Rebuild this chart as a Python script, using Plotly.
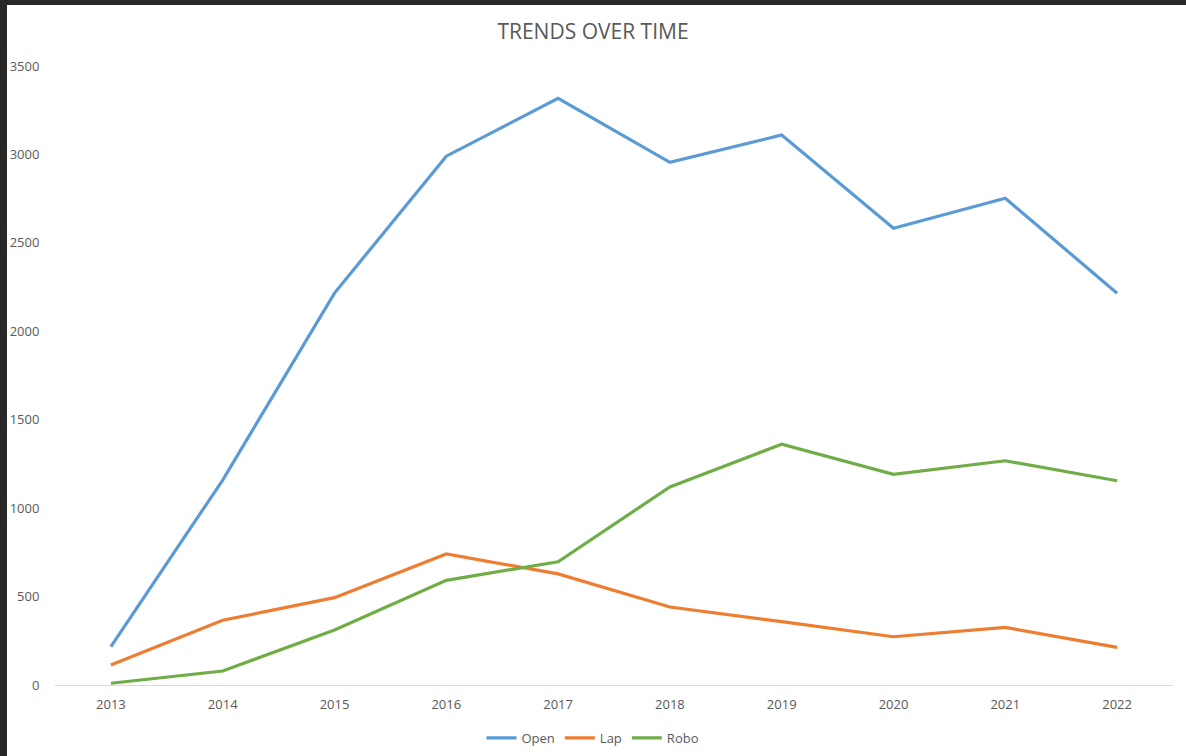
import plotly.graph_objects as go

years = ["2013", "2014", "2015", "2016", "2017", "2018", "2019", "2020", "2021", "2022"]
open_vals = [217, 1159, 2216, 2990, 3317, 2955, 3110, 2582, 2752, 2215]
lap_vals = [113, 366, 494, 741, 628, 441, 358, 273, 326, 213]
robo_vals = [10, 79, 311, 592, 697, 1120, 1361, 1191, 1268, 1155]
y_ticks = [0, 500, 1000, 1500, 2000, 2500, 3000, 3500]

series = [("Open", open_vals, "#5B9BD5"), ("Lap", lap_vals, "#ED7D31"), ("Robo", robo_vals, "#70AD47")]

fig = go.Figure()
for name, vals, color in series:
    fig.add_trace(go.Scatter(x=years, y=vals, name=name, mode="lines",
                             line=dict(color=color, width=3.2)))

W, H = 1186, 756
ml, mr, mt, mb = 55, 13, 66, 71

fig.update_layout(
    width=W, height=H,
    margin=dict(l=ml, r=mr, t=mt, b=mb, pad=0, autoexpand=False),
    paper_bgcolor="white", plot_bgcolor="white",
    font=dict(family="Open Sans", size=12, color="#595959"),
    title=dict(text="TRENDS OVER TIME", x=0.5, xref="container", xanchor="center",
               y=1 - 32 / H, yref="container", yanchor="middle",
               font=dict(family="Open Sans", size=21, color="#595959")),
    xaxis=dict(type="category", range=[-0.5, len(years) - 0.5], showgrid=False,
               showline=True, linecolor="#d9d9d9",
               linewidth=1, ticks="outside", ticklen=7, tickcolor="rgba(0,0,0,0)",
               zeroline=False, automargin=False, tickfont=dict(size=13, color="#595959")),
    yaxis=dict(range=[0, 3500], tickvals=y_ticks, showgrid=False, showline=False,
               zeroline=False, ticks="outside", ticklen=12, tickcolor="rgba(0,0,0,0)",
               automargin=False, tickfont=dict(size=13, color="#595959")),
    legend=dict(orientation="h", x=0.5, xanchor="center", xref="container",
                y=18 / H, yref="container", yanchor="middle",
                font=dict(size=13, color="#595959"), itemwidth=30),
    showlegend=True,
)

post = (
    "var d=document;"
    "d.documentElement.style.margin='0';d.documentElement.style.overflow='hidden';"
    "d.body.style.margin='0';d.body.style.padding='0';d.body.style.overflow='hidden';"
    "var top=d.createElement('div');top.style.cssText='position:fixed;left:0;top:0;width:100vw;height:5px;background:#2a2826;z-index:10;';"
    "var lft=d.createElement('div');lft.style.cssText='position:fixed;left:0;top:0;width:7px;height:100vh;background:#2a2826;z-index:10;';"
    "d.body.appendChild(top);d.body.appendChild(lft);"
)

fig.write_html("out.html", config={"displayModeBar": False}, post_script=post)
